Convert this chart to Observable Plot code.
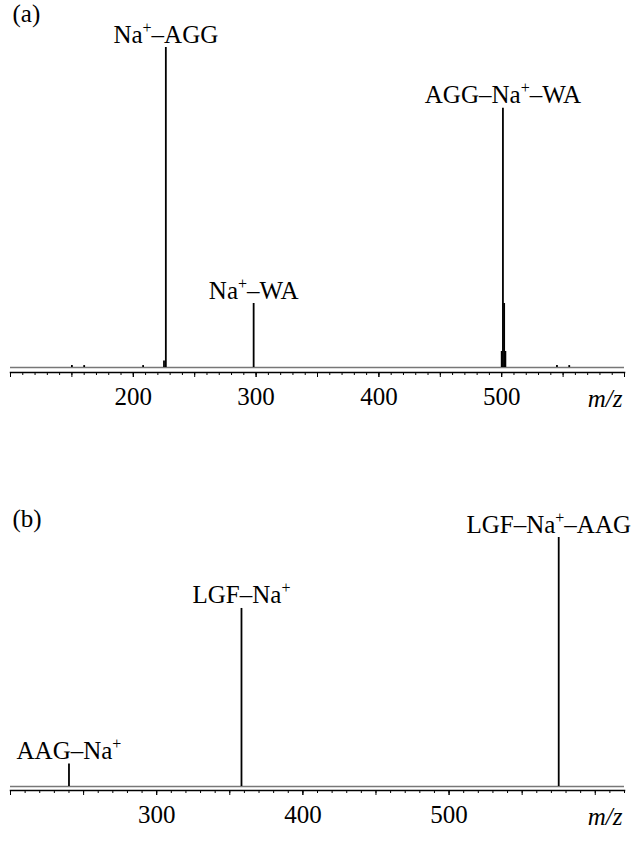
<!DOCTYPE html>
<html><head><meta charset="utf-8">
<script src="https://cdn.jsdelivr.net/npm/d3@7"></script>
<script src="https://cdn.jsdelivr.net/npm/@observablehq/plot@0.6"></script>
<style>
body{margin:0;background:#fff;}
#c{width:634px;}
#c svg{display:block;}
</style></head><body><div id="c"></div>
<script>
// Panel (a)
const peaksA_mz = [150, 160, 208, 225, 226.5, 298, 500, 501, 502, 503, 545, 555];
const peaksA_int = [0.6, 0.6, 0.6, 2, 100, 20, 5, 81, 20, 5, 0.6, 0.6];
const labelsA_text = ["Na+–AGG", "Na+–WA", "AGG–Na+–WA"];
const labelsA_mz = [226.5, 298, 501];
const labelsA_int = [100, 20, 81];
const ticksA_major = [200, 300, 400, 500];

// Panel (b)
const peaksB_mz = [240, 358, 575];
const peaksB_int = [9, 71.5, 100];
const labelsB_text = ["AAG–Na+", "LGF–Na+", "LGF–Na+–AAG"];
const labelsB_mz = [240, 358, 575];
const labelsB_int = [9, 71.5, 100];
const ticksB_major = [300, 400, 500];

const FONT = "'Liberation Serif','Times New Roman',serif";
const FS = 25;

function panel({tag, tagDy, mz, inten, ltext, lmz, lint, domain, major, height, marginTop, marginBottom, insetBottom}) {
  const peaks = mz.map((m, i) => ({mz: m, i: inten[i]}));
  const labels = ltext.map((t, i) => ({t, mz: lmz[i], i: lint[i]}));
  const minor = d3.range(Math.ceil(domain[0] / 10) * 10, domain[1] + 0.01, 10);
  const fifty = minor.filter(v => v % 50 === 0);
  const svg = Plot.plot({
    width: 634,
    height,
    marginTop,
    marginBottom,
    marginLeft: 10,
    marginRight: 10,
    style: {fontFamily: FONT, fontSize: FS + "px", color: "#000", background: "#fff"},
    x: {domain, axis: null},
    y: {domain: [0, 100], axis: null, insetBottom},
    marks: [
      Plot.ruleY([0], {stroke: "#777", strokeWidth: 1.5}),
      Plot.ruleX(peaks, {x: "mz", y1: 0, y2: "i", stroke: "#000", strokeWidth: 1.8}),
      Plot.frame({anchor: "bottom", stroke: "#000", strokeWidth: 1.5}),
      Plot.axisX({ticks: minor, tickSize: 3, fill: "none", label: null, strokeWidth: 1}),
      Plot.axisX({ticks: fifty, tickSize: 5, fill: "none", label: null, strokeWidth: 1}),
      Plot.axisX({ticks: major, tickSize: 5, tickPadding: 10, fontSize: FS, label: null, strokeWidth: 1}),
      Plot.text(labels, {x: "mz", y: "i", text: "t", textAnchor: "middle", lineAnchor: "bottom", dy: -5, fontSize: FS, fill: "#000", className: "pk"}),
      Plot.text([tag], {frameAnchor: "top-left", dx: 2, dy: tagDy, lineAnchor: "top", textAnchor: "start", fontSize: FS, fill: "#000"}),
      Plot.text(["m/z"], {frameAnchor: "bottom-right", dy: 26, dx: -2, textAnchor: "end", lineAnchor: "middle", fontSize: FS, fontStyle: "italic", fill: "#000"})
    ]
  });
  // superscript plus signs
  svg.querySelectorAll(".pk text").forEach(el => {
    const s = el.textContent;
    if (!s.includes("+")) return;
    el.textContent = "";
    let raise = false;
    s.split(/(\+)/).forEach(part => {
      if (!part) return;
      const ts = document.createElementNS("http://www.w3.org/2000/svg", "tspan");
      ts.textContent = part;
      if (part === "+") {
        ts.setAttribute("font-size", Math.round(FS * 0.65));
        ts.setAttribute("dy", -Math.round(FS * 0.38));
        raise = true;
      } else if (raise) {
        ts.setAttribute("dy", Math.round(FS * 0.38));
        raise = false;
      }
      el.appendChild(ts);
    });
  });
  return svg;
}

const c = document.getElementById("c");
const svgA = panel({tag: "(a)", tagDy: -43, mz: peaksA_mz, inten: peaksA_int, ltext: labelsA_text, lmz: labelsA_mz, lint: labelsA_int,
  domain: [100, 600], major: ticksA_major, height: 430, marginTop: 47, marginBottom: 58, insetBottom: 5});
const svgB = panel({tag: "(b)", tagDy: -28, mz: peaksB_mz, inten: peaksB_int, ltext: labelsB_text, lmz: labelsB_mz, lint: labelsB_int,
  domain: [200, 620], major: ticksB_major, height: 425, marginTop: 107, marginBottom: 65, insetBottom: 4});
c.appendChild(svgA);
c.appendChild(svgB);
// keep peak labels inside the figure width
[svgA, svgB].forEach(svg => {
  const sr = svg.getBoundingClientRect();
  svg.querySelectorAll(".pk text").forEach(el => {
    const r = el.getBoundingClientRect();
    const over = (r.right - sr.left) - 631;
    if (over > 0) {
      const tr = el.getAttribute("transform") || "";
      el.setAttribute("transform", tr + ` translate(${-over.toFixed(1)},0)`);
    }
  });
});
</script></body></html>
